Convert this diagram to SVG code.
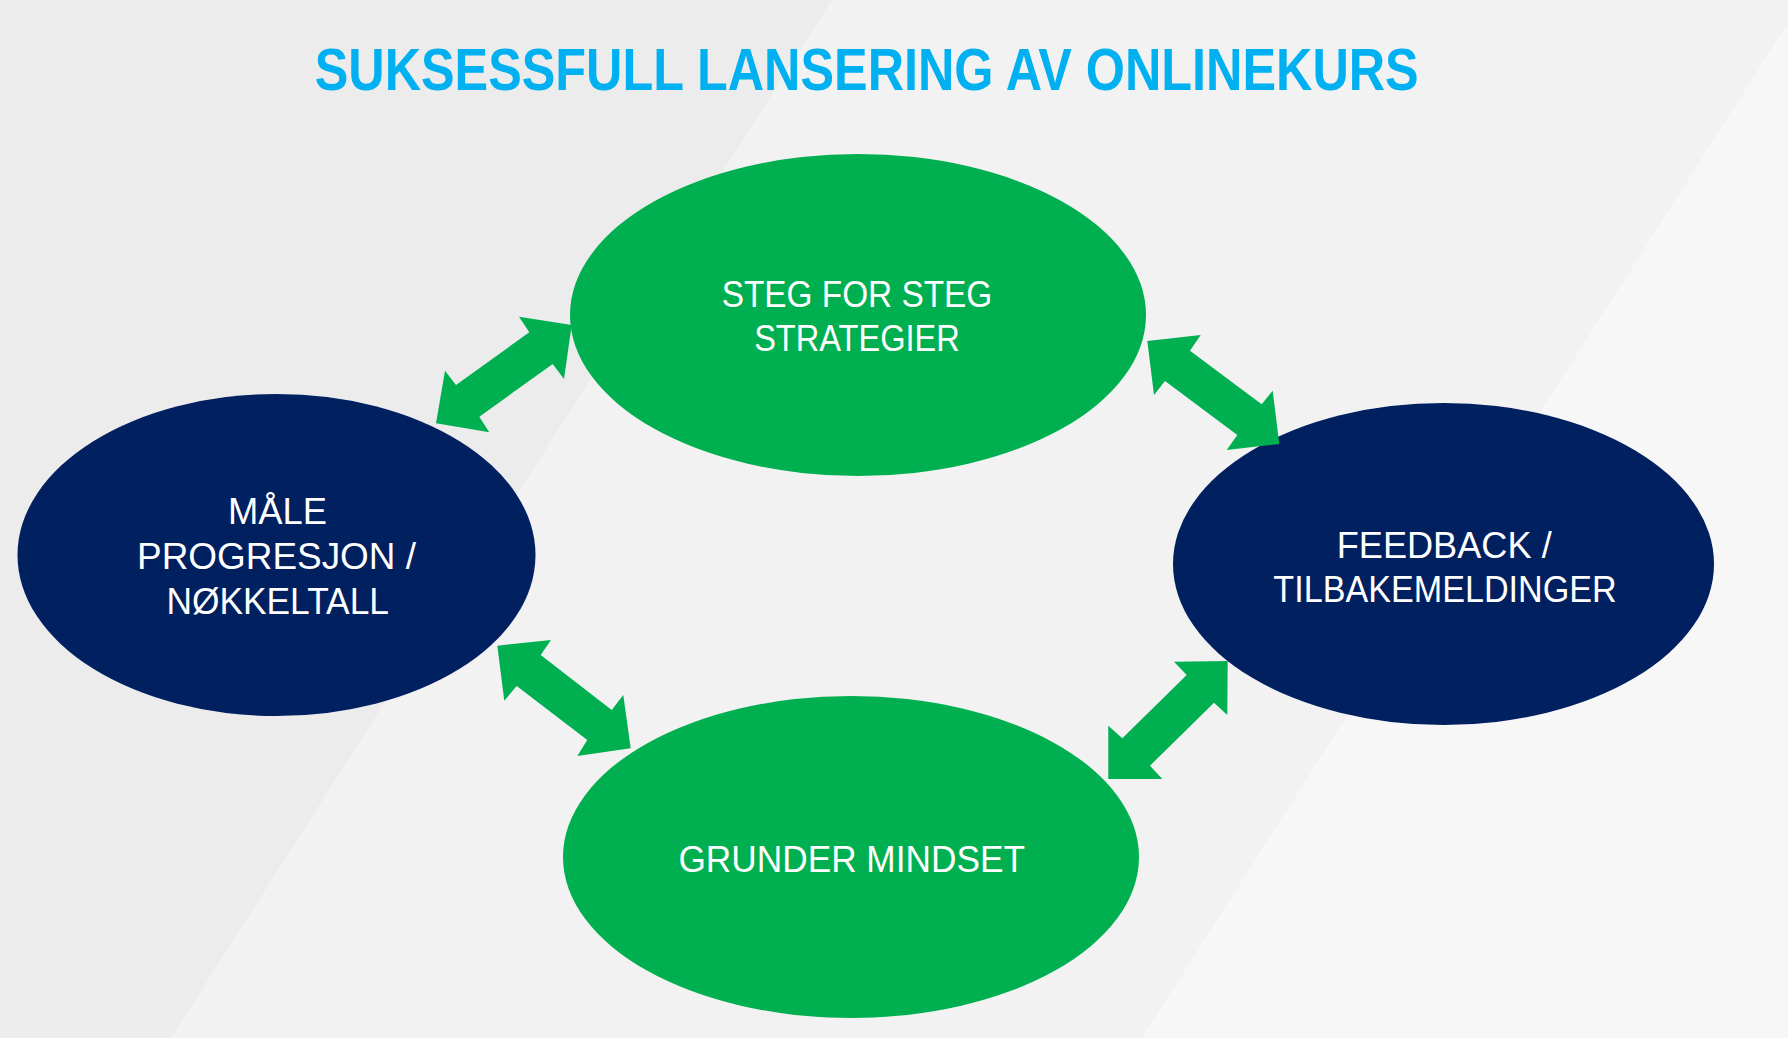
<svg xmlns="http://www.w3.org/2000/svg" width="1788" height="1038" viewBox="0 0 1788 1038">
  <style>
    .green { fill: #00b050; }
    .navy { fill: #002060; }
    .arrow { fill: #00b050; }
    .label { font-family: "Liberation Sans", Arial, sans-serif; font-size: 36px; fill: #ffffff; text-anchor: middle; }
    .title { font-family: "Liberation Sans", Arial, sans-serif; font-size: 59px; font-weight: bold; fill: #00b0f0; text-anchor: middle; }
  </style>
  <g id="background">
    <rect x="0" y="0" width="1788" height="1038" fill="#f2f2f2"/>
    <polygon points="0,0 832,0 171,1038 0,1038" fill="#ececec"/>
    <polygon points="1788,23 1788,1038 1142,1038" fill="#f7f7f7"/>
  </g>
  <text id="title" class="title" x="866.7" y="90" textLength="1104" lengthAdjust="spacingAndGlyphs">SUKSESSFULL LANSERING AV ONLINEKURS</text>
  <g id="node-steg">
    <ellipse class="green" cx="858" cy="315" rx="288" ry="161"/>
    <text class="label" x="857" y="306.5" textLength="270.6" lengthAdjust="spacingAndGlyphs">STEG FOR STEG</text>
    <text class="label" x="857" y="351" textLength="205.7" lengthAdjust="spacingAndGlyphs">STRATEGIER</text>
  </g>
  <g id="node-male">
    <ellipse class="navy" cx="276.5" cy="555" rx="259" ry="161"/>
    <text class="label" x="277.5" y="524" textLength="99" lengthAdjust="spacingAndGlyphs">MÅLE</text>
    <text class="label" x="276.5" y="568.5" textLength="279" lengthAdjust="spacingAndGlyphs">PROGRESJON /</text>
    <text class="label" x="277.7" y="613.5" textLength="222.5" lengthAdjust="spacingAndGlyphs">NØKKELTALL</text>
  </g>
  <g id="node-feedback">
    <ellipse class="navy" cx="1443.5" cy="564" rx="270.5" ry="161"/>
    <text class="label" x="1444.2" y="558" textLength="215" lengthAdjust="spacingAndGlyphs">FEEDBACK /</text>
    <text class="label" x="1445" y="601.5" textLength="343.4" lengthAdjust="spacingAndGlyphs">TILBAKEMELDINGER</text>
  </g>
  <g id="node-grunder">
    <ellipse class="green" cx="851" cy="857" rx="288" ry="161"/>
    <text class="label" x="851.7" y="872" textLength="346.5" lengthAdjust="spacingAndGlyphs">GRUNDER MINDSET</text>
  </g>
  <g id="connectors">
    <polygon class="arrow" points="571.7,325 519,316.7 529.3,332.3 456,385 445,370.7 436,423.3 489.3,432.3 479.3,416.7 552.7,364 564,379"/>
    <polygon class="arrow" points="1147.3,341 1200.7,335 1190,350.7 1261.7,404.3 1272.7,390.7 1279.3,444 1226.7,450 1237.3,435 1165,381 1154,395"/>
    <polygon class="arrow" points="497.3,645.7 551,640 540.7,655 611.7,710 623.3,695 630.7,748.3 577.3,756 587.3,740 516.7,686 504.3,700.7"/>
    <polygon class="arrow" points="1227.7,661 1174,661.7 1186.7,675 1122.3,738.3 1108.3,725.7 1108.3,779 1162.3,779 1150,765.7 1214,702.7 1227.3,715"/>
  </g>
</svg>
